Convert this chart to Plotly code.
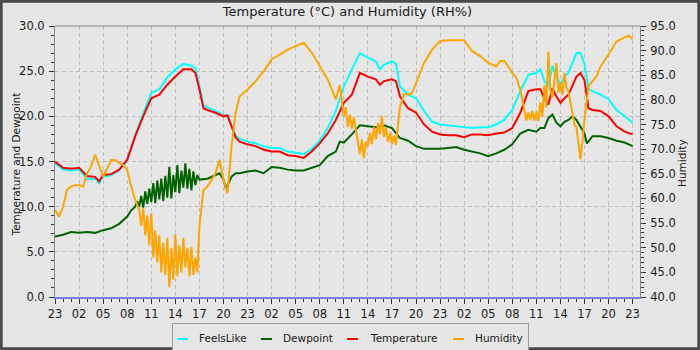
import pandas as pd
import plotly.graph_objects as go

# ---------------- data ----------------
start_time = "2024-06-10 23:00"
series_names = ["FeelsLike", "Dewpoint", "Temperature", "Humidity"]
series_colors = ["#00ffff", "#006400", "#ff0000", "#ffa500"]


def grid(a, b, step):
    n = int(round((b - a) / step)) + 1
    return [round(a + i * step, 2) for i in range(n)]


# hours since start (Temperature & FeelsLike share this grid)
t_hours = [0, 1, 2, 3, 4, 5, 5.5, 6, 7, 8, 9, 10, 11, 12, 13, 14, 15, 16, 17, 17.5,
           18, 18.5, 19, 20, 21, 21.5, 22, 22.5, 23, 24, 25, 26, 27, 28, 29, 30, 31, 32,
           33, 34, 35, 36, 37, 38, 39, 40, 40.5, 41, 42, 42.5, 43, 44, 45, 46, 47, 48,
           49, 50, 51, 52, 53, 54, 55, 56, 57, 58, 59, 60, 60.5, 61, 61.5, 62, 62.5, 63,
           63.5, 64, 65, 65.5, 66, 66.5, 67, 68, 69, 70, 71, 72]
temperature = [15.0, 14.3, 14.2, 14.3, 13.4, 13.3, 12.8, 13.5, 13.6, 14.1, 15.2, 17.8, 20.0,
               22.0, 22.4, 23.5, 24.4, 25.2, 25.2, 24.8, 23.0, 20.9, 20.7, 20.4, 20.0, 20.1,
               18.9, 17.7, 17.2, 16.9, 16.7, 16.3, 16.1, 16.1, 15.7, 15.6, 15.4, 16.1, 17.0,
               18.1, 19.6, 21.5, 22.4, 24.8, 24.4, 24.1, 23.5, 23.9, 24.1, 23.9, 22.2, 20.9,
               20.4, 19.1, 18.3, 18.0, 17.9, 17.9, 17.7, 18.0, 18.0, 17.9, 18.1, 18.2, 18.7,
               20.4, 22.8, 23.0, 23.0, 21.9, 21.3, 23.1, 22.2, 21.5, 22.0, 22.4, 24.4, 24.8,
               24.0, 20.9, 20.7, 20.6, 20.0, 18.9, 18.3, 18.0]
feels_like = [14.8, 14.1, 14.0, 14.1, 13.1, 13.1, 12.6, 13.3, 13.5, 14.0, 15.1, 17.9, 20.3,
              22.6, 23.0, 24.3, 25.2, 25.8, 25.6, 25.3, 23.4, 21.2, 21.0, 20.6, 20.1, 20.1,
              19.0, 17.9, 17.5, 17.2, 17.0, 16.7, 16.5, 16.5, 16.1, 16.0, 15.8, 16.4, 17.3,
              18.7, 20.6, 23.3, 25.2, 27.0, 26.5, 26.1, 25.2, 25.7, 26.1, 25.8, 23.3, 22.4,
              22.0, 20.6, 19.4, 19.1, 19.0, 18.9, 18.8, 18.7, 18.8, 18.8, 19.1, 19.6, 20.7,
              22.8, 24.6, 24.8, 25.2, 23.9, 23.3, 25.6, 24.4, 23.5, 24.4, 24.8, 27.0, 27.0,
              25.8, 23.0, 22.8, 22.4, 21.9, 20.7, 20.0, 19.3]

d_hours = (grid(0, 9, 1) + [9.5] + grid(10, 18, 0.25) +
           [19, 20, 20.5, 21, 21.3, 22, 22.5] + grid(23, 35, 1) + [35.5] + grid(36, 60, 1) +
           [60.5, 61, 61.5, 62, 62.5, 63, 63.5, 64, 64.5, 65, 65.5, 66, 66.3] +
           grid(67, 72, 1))
dewpoint = [6.7, 6.9, 7.2, 7.1, 7.2, 7.1, 7.4, 7.6, 8.1, 8.9,
            9.6,
            10.0, 10.6, 10.0, 11.2, 9.9, 11.7, 10.3, 12.0, 10.5, 12.6, 10.4, 12.9, 10.8,
            13.1, 10.6, 13.4, 11.0, 14.4, 10.9, 13.5, 11.6, 14.6, 11.5, 14.0, 12.1, 14.8,
            12.0, 14.2, 11.8, 13.9, 12.4, 13.5, 13.0,
            13.1, 13.5, 13.7, 13.0, 12.0, 13.3, 13.7,
            13.7, 13.9, 14.0, 13.7, 14.4, 14.3, 14.1, 14.0, 14.0, 14.3, 14.6, 15.6, 16.1,
            17.2,
            17.1, 18.0, 19.0, 18.9, 18.8, 19.0, 18.7, 17.6, 17.3, 16.7, 16.4, 16.4, 16.4,
            16.5, 16.6, 16.3, 16.1, 15.9, 15.6, 15.9, 16.3, 16.9, 18.1, 18.5, 18.3,
            18.7, 18.7, 19.8, 20.2, 19.3, 18.9, 19.4, 19.6, 20.0, 19.6, 18.9, 18.1, 17.0,
            17.8, 17.8, 17.6, 17.3, 17.1, 16.7]

h_hours = (grid(0, 10, 0.5) + grid(10.5, 18, 0.25) + grid(18.5, 22.5, 0.5) +
           grid(23, 35, 1) + [35.5] + grid(36, 42.5, 0.25) + [43, 43.5, 44, 44.5] +
           grid(45, 55, 1) + grid(55.5, 58, 0.5) + grid(58.5, 66, 0.25) +
           [66.5, 67, 67.5, 68, 69, 70, 71, 71.5, 72])
humidity = [57.7, 56.3, 58.3, 61.7, 62.4, 62.7, 62.7, 62.4, 65.1, 66.5, 68.9, 66.5, 64.4,
            66.1, 67.8, 67.8, 67.2, 66.8, 65.8, 62.4, 59.7,
            57.7, 54.5, 58.0, 52.5, 56.5, 50.5, 57.0, 48.0, 53.5, 47.0, 52.5, 45.0, 51.0,
            44.5, 52.0, 42.0, 50.0, 43.5, 52.8, 44.2, 50.5, 45.0, 52.0, 46.0, 50.0, 44.2,
            50.2, 44.5, 48.0, 45.0, 54.3,
            61.7, 62.4, 63.8, 65.1, 67.8, 63.8, 61.0, 70.5, 77.3,
            80.7, 82.1, 83.8, 85.8, 88.2, 89.2, 90.2, 90.9, 91.6, 89.6, 86.8, 84.1, 80.1,
            83.0,
            76.7, 78.5, 74.5, 77.0, 74.2, 76.5, 74.0, 71.5, 69.0, 72.0, 68.2, 71.5, 70.5,
            73.3, 71.0, 74.5, 72.0, 75.3, 73.0, 76.7, 72.5, 74.5, 71.5, 73.3, 71.0, 72.8,
            70.9,
            78.7, 81.1, 81.1, 81.4,
            83.4, 87.5, 90.2, 91.9, 92.1, 92.1, 92.1, 89.9, 88.9, 87.5, 86.8,
            87.9, 87.9, 86.8, 85.5, 84.5, 82.1,
            78.0, 75.8, 77.5, 75.9, 77.8, 75.8, 77.6, 75.7, 79.5, 76.5, 83.0, 78.5, 89.8,
            82.0, 80.5, 84.0, 87.5, 81.5, 83.5, 81.0, 85.5, 82.5, 81.8, 79.5, 77.5, 75.0,
            74.5, 71.0, 68.0, 71.5, 76.0,
            82.8, 83.8, 84.8, 86.8, 89.2, 91.9, 92.6, 93.1, 92.3]

assert len(t_hours) == len(temperature) == len(feels_like)
assert len(d_hours) == len(dewpoint), (len(d_hours), len(dewpoint))
assert len(h_hours) == len(humidity), (len(h_hours), len(humidity))

# ---------------- figure ----------------
t0 = pd.Timestamp(start_time)


def to_time(hours):
    return t0 + pd.to_timedelta(hours, unit="h")


FONT = "DejaVu Sans"
TXT = "#1a1a1a"
BG = "#e6e6e6"

# plot-area pixel geometry
L, R, T, B = 55, 640, 26, 297
PW, PH = R - L, B - T


def px_x(px):
    return (px - L) / PW


def px_y(py):
    return (B - py) / PH


fig = go.Figure()
fig.add_trace(go.Scatter(x=to_time(h_hours), y=humidity, yaxis="y2", mode="lines",
                         line=dict(color=series_colors[3], width=2), name=series_names[3]))
fig.add_trace(go.Scatter(x=to_time(t_hours), y=feels_like, mode="lines",
                         line=dict(color=series_colors[0], width=2), name=series_names[0]))
fig.add_trace(go.Scatter(x=to_time(d_hours), y=dewpoint, mode="lines",
                         line=dict(color=series_colors[1], width=2), name=series_names[1]))
fig.add_trace(go.Scatter(x=to_time(t_hours), y=temperature, mode="lines",
                         line=dict(color=series_colors[2], width=2), name=series_names[2]))

x_end = t0 + pd.Timedelta(hours=72.92)

fig.update_layout(
    width=700, height=350,
    margin=dict(l=L, r=700 - R, t=T, b=350 - B, pad=0),
    paper_bgcolor=BG, plot_bgcolor=BG,
    font=dict(family=FONT, size=11, color=TXT),
    showlegend=False,
    title=dict(text="Temperature (°C) and Humidity (RH%)", x=0.5, xref="paper",
               xanchor="center", y=1 - 11.5 / 350, yref="container", yanchor="middle",
               font=dict(size=13, family=FONT, color=TXT)),
    xaxis=dict(
        type="date", range=[t0, x_end], tick0=t0, dtick=3 * 3600 * 1000,
        tickformat="%H", ticks="outside", ticklen=5, tickcolor="#333",
        showline=True, linecolor="#7b7bef", linewidth=2,
        showgrid=True, gridcolor="#bdbdbd", griddash="4px,3px", gridwidth=1,
        minor=dict(dtick=3600 * 1000, ticks="outside", ticklen=3, tickcolor="#333",
                   showgrid=False),
        tickfont=dict(size=11.5), zeroline=False,
    ),
    yaxis=dict(
        range=[0, 30], dtick=5, tickformat=".1f", ticks="outside", ticklen=5,
        tickcolor="#333", showline=True, linecolor="#888", linewidth=1,
        showgrid=True, gridcolor="#bdbdbd", griddash="4px,3px", gridwidth=1,
        minor=dict(dtick=1, ticks="outside", ticklen=3, tickcolor="#333", showgrid=False),
        zeroline=False, tickfont=dict(size=11.5), ticklabelstandoff=2,
    ),
    yaxis2=dict(
        range=[40, 95], dtick=5, tickformat=".1f", ticks="outside", ticklen=5,
        tickcolor="#333", overlaying="y", side="right", showline=True, linecolor="#888",
        showgrid=False, zeroline=False,
        minor=dict(dtick=1, ticks="outside", ticklen=3, tickcolor="#333", showgrid=False),
        tickfont=dict(size=11.5), ticklabelstandoff=2,
    ),
)

shapes = [
    # top border of plot area
    dict(type="line", xref="paper", yref="paper", x0=0, x1=1, y0=1, y1=1,
         line=dict(color="#888", width=1)),
    # outer frame
    dict(type="rect", xref="paper", yref="paper", x0=px_x(1.2), x1=px_x(698.8),
         y0=px_y(348.8), y1=px_y(1.2), line=dict(color="#4a4a4a", width=3)),
    # legend box
    dict(type="rect", xref="paper", yref="paper", x0=px_x(172.5), x1=px_x(528.5),
         y0=px_y(352), y1=px_y(323.5), line=dict(color="#9a9a9a", width=1),
         fillcolor=BG, layer="above"),
]
annotations = [
    dict(text="Temperature and Dewpoint", textangle=-90, xref="paper", yref="paper",
         x=px_x(15.5), y=px_y(165), xanchor="center", yanchor="middle", showarrow=False,
         font=dict(size=10.5, family=FONT, color=TXT)),
    dict(text="Humidity", textangle=-90, xref="paper", yref="paper",
         x=px_x(682), y=px_y(163), xanchor="center", yanchor="middle", showarrow=False,
         font=dict(size=10.5, family=FONT, color=TXT)),
]
legend_symbol_x = [177, 261, 347, 453]
legend_text_x = [196.5, 280.5, 367.5, 472.5]
for name, color, sx, tx in zip(series_names, series_colors, legend_symbol_x, legend_text_x):
    shapes.append(dict(type="line", xref="paper", yref="paper", x0=px_x(sx),
                       x1=px_x(sx + 11), y0=px_y(339), y1=px_y(339),
                       line=dict(color=color, width=2), layer="above"))
    annotations.append(dict(text=name, xref="paper", yref="paper", x=px_x(tx),
                            y=px_y(337.5), xanchor="left", yanchor="middle",
                            showarrow=False, font=dict(size=10.5, family=FONT, color=TXT)))

fig.update_layout(shapes=shapes, annotations=annotations)
fig.write_html("out.html")
